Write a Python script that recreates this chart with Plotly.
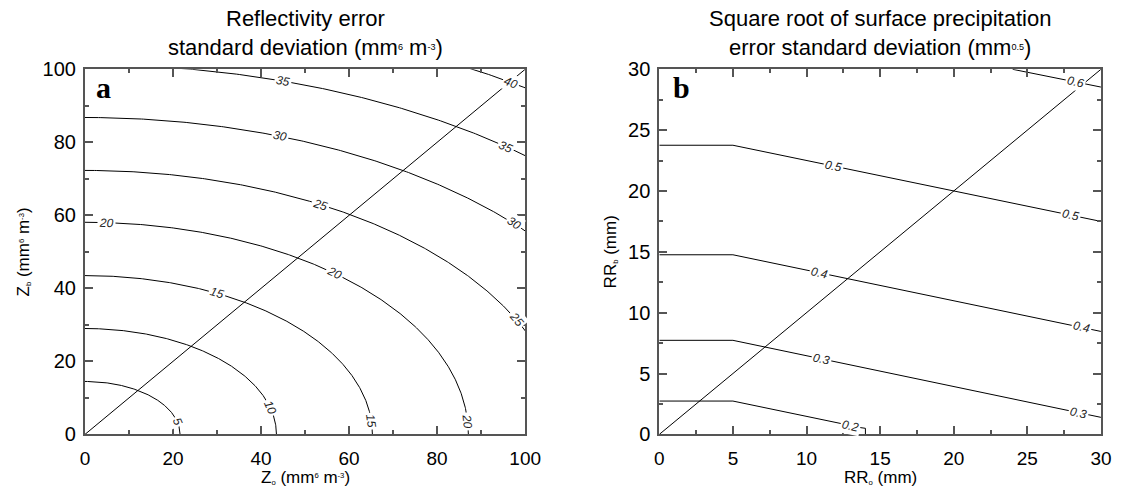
import numpy as np
import plotly.graph_objects as go

# ---------------- data ----------------
# Panel a: reflectivity error std-dev contours (elliptical iso-lines)
levels_a = [5, 10, 15, 20, 25, 30, 35, 40]
semi_x_a = [21.6, 43.5, 65.3, 87.1, 108.8, 130.5, 152.3, 174.0]   # Zo intercepts
semi_y_a = [14.5, 29.0, 43.5, 58.1, 72.3, 86.8, 101.3, 116.0]    # Zb intercepts
# contour labels (level, Zo, Zb)
lab_a_level = [35, 40, 30, 35, 25, 30, 20, 25, 20, 15, 20, 15, 10, 5]
lab_a_x = [45.0, 96.7, 44.5, 95.9, 53.7, 97.6, 4.9, 98.0, 56.5, 30.1, 86.8, 64.6, 41.9, 20.6]
lab_a_y = [96.9, 96.2, 81.8, 79.0, 63.1, 57.9, 58.0, 31.5, 44.0, 38.6, 3.5, 3.5, 7.2, 3.5]
diag_a = [0, 100]

# Panel b: square root of surface precipitation error std-dev (iso-lines)
levels_b = [0.2, 0.3, 0.4, 0.5, 0.6]
line_b_x = [[0, 5, 13.7, 14.0, 14.0],
            [0, 5, 30],
            [0, 5, 30],
            [0, 5, 30],
            [24.0, 30]]
line_b_y = [[2.74, 2.74, 0.55, 0.5, 0.0],
            [7.73, 7.73, 1.40],
            [14.76, 14.76, 8.46],
            [23.76, 23.76, 17.50],
            [30.0, 28.54]]
lab_b_level = [0.6, 0.5, 0.5, 0.4, 0.4, 0.3, 0.3, 0.2]
lab_b_x = [28.3, 11.8, 27.95, 10.9, 28.7, 11.0, 28.5, 13.0]
diag_b = [0, 30]

# ---------------- layout geometry (pixels) ----------------
W, H = 1130, 497
A_L, A_R = 81.5, 530.0
B_L, B_R = 666.7, 1116.7
P_T, P_B = 61.0, 443.0
FONT = "Liberation Sans, Arial, sans-serif"
AX = "#555555"

def fx(px):
    return px / W

def fy(py):
    return 1 - py / H

def small(s, sz):
    return f"<span style='font-size:{sz}px'>{s}</span>"

sxa, sya = (A_R - A_L) / 100.0, (P_B - P_T) / 100.0
sxb, syb = (B_R - B_L) / 30.0, (P_B - P_T) / 30.0

fig = go.Figure()
annotations = []

def norm_angle(a):
    while a > 90:
        a -= 180
    while a <= -90:
        a += 180
    return a

LABFONT = dict(family=FONT, size=12, color="#222", style="italic")

# ---- panel a lines ----
t = np.linspace(0, np.pi / 2, 400)
for lev, a, b in zip(levels_a, semi_x_a, semi_y_a):
    fig.add_trace(go.Scatter(x=a * np.cos(t), y=b * np.sin(t), mode="lines",
                             line=dict(color="black", width=1),
                             xaxis="x", yaxis="y", hoverinfo="skip", showlegend=False))
fig.add_trace(go.Scatter(x=diag_a, y=diag_a, mode="lines", line=dict(color="black", width=1),
                         xaxis="x", yaxis="y", hoverinfo="skip", showlegend=False))

for lev, lx, ly in zip(lab_a_level, lab_a_x, lab_a_y):
    i = levels_a.index(lev)
    a, b = semi_x_a[i], semi_y_a[i]
    tt = np.arctan2(ly / b, lx / a)
    x0, y0 = a * np.cos(tt), b * np.sin(tt)
    dxp = -a * np.sin(tt) * sxa
    dyp = -b * np.cos(tt) * sya
    ang = norm_angle(np.degrees(np.arctan2(dyp, dxp)))
    annotations.append(dict(x=x0, y=y0, xref="x", yref="y", text=str(lev), showarrow=False,
                            textangle=ang, bgcolor="white", borderpad=1, font=LABFONT))

# ---- panel b lines ----
for lev, xs, ys in zip(levels_b, line_b_x, line_b_y):
    fig.add_trace(go.Scatter(x=xs, y=ys, mode="lines", line=dict(color="black", width=1),
                             xaxis="x2", yaxis="y2", hoverinfo="skip", showlegend=False))
fig.add_trace(go.Scatter(x=diag_b, y=diag_b, mode="lines", line=dict(color="black", width=1),
                         xaxis="x2", yaxis="y2", hoverinfo="skip", showlegend=False))

for lev, lx in zip(lab_b_level, lab_b_x):
    i = levels_b.index(lev)
    xa = np.array(line_b_x[i][:3])
    ya = np.array(line_b_y[i][:3])
    ly = float(np.interp(lx, xa, ya))
    k = int(np.clip(np.searchsorted(xa, lx) - 1, 0, len(xa) - 2))
    slope = (ya[k + 1] - ya[k]) / (xa[k + 1] - xa[k])
    ang = norm_angle(np.degrees(np.arctan2(-slope * syb, sxb)))
    annotations.append(dict(x=lx, y=ly, xref="x2", yref="y2", text=f"{lev:.1f}", showarrow=False,
                            textangle=ang, bgcolor="white", borderpad=1, font=LABFONT))

# ---- titles / axis titles / panel letters ----
def txt(x, y, s, size, angle=0, family=FONT, yanchor="middle"):
    annotations.append(dict(x=fx(x), y=fy(y), xref="paper", yref="paper", text=s,
                            showarrow=False, textangle=angle, xanchor="center", yanchor=yanchor,
                            font=dict(family=family, size=size, color="black")))

ca = (A_L + A_R) / 2
cb = (B_L + B_R) / 2
SPLIT = 23
txt(ca, SPLIT, "Reflectivity error", 22, yanchor="bottom")
txt(ca, SPLIT, "standard deviation (mm" + small("<sup>6</sup>", 13)
    + " m" + small("<sup>-3</sup>", 13) + ")", 22, yanchor="top")
txt(cb, SPLIT, "Square root of surface precipitation", 22, yanchor="bottom")
txt(cb, SPLIT, "error standard deviation (mm" + small("<sup>0.5</sup>", 13) + ")", 22, yanchor="top")
txt(ca, 488, "Z" + small("<sub>o</sub>", 11) + " (mm" + small("<sup>6</sup>", 11) + " m" + small("<sup>-3</sup>", 11) + ")", 17)
txt(cb, 488, "RR" + small("<sub>o</sub>", 11) + " (mm)", 17)
txt(19, 252, "Z" + small("<sub>b</sub>", 11) + " (mm" + small("<sup>6</sup>", 11) + " m" + small("<sup>-3</sup>", 11) + ")", 17, angle=-90)
txt(617, 252, "RR" + small("<sub>b</sub>", 11) + " (mm)", 17, angle=-90)
txt(100, 80, "<b>a</b>", 30, family="Liberation Serif, Times New Roman, serif")
txt(689, 80, "<b>b</b>", 30, family="Liberation Serif, Times New Roman, serif")

def axis(domain, rng, dtick, minor, anchor, standoff, size):
    return dict(domain=domain, range=rng, anchor=anchor, dtick=dtick, tick0=0,
                ticks="inside", ticklen=8, tickwidth=1.5, tickcolor=AX,
                minor=dict(ticks="inside", ticklen=4, tickwidth=1.5, tickcolor=AX, dtick=minor),
                showline=True, linecolor=AX, linewidth=2, mirror="ticks",
                showgrid=False, zeroline=False, fixedrange=True,
                ticklabelstandoff=standoff,
                tickfont=dict(family=FONT, size=size, color="black"))

ydom = [fy(P_B), fy(P_T)]
fig.update_layout(
    width=W, height=H, margin=dict(l=0, r=0, t=0, b=0),
    paper_bgcolor="white", plot_bgcolor="white", showlegend=False,
    xaxis=axis([fx(A_L), fx(A_R)], [0, 100], 20, 10, "y", 6, 19),
    yaxis=axis(ydom, [0, 100], 20, 10, "x", 3, 20),
    xaxis2=axis([fx(B_L), fx(B_R)], [0, 30], 5, 2.5, "y2", 6, 19),
    yaxis2=axis(ydom, [0, 30], 5, 2.5, "x2", 3, 20),
    annotations=annotations,
)

fig.write_html("out.html")
